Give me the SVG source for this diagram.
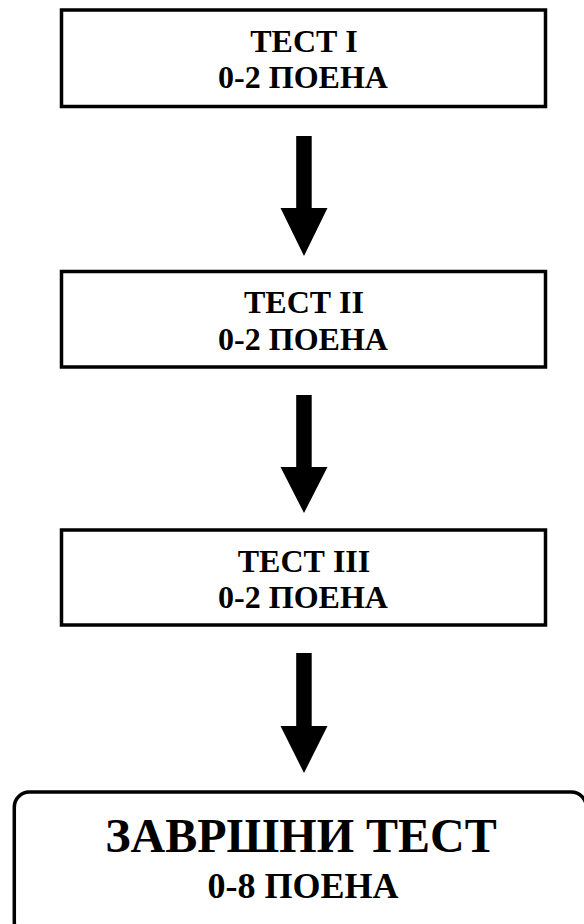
<svg xmlns="http://www.w3.org/2000/svg" width="584" height="924" viewBox="0 0 584 924">
<style>
.box{fill:#fff;stroke:#000;stroke-width:3.5}
.t{font-family:"Liberation Serif","Times New Roman",serif;font-weight:bold;fill:#000;text-anchor:middle}
.s{font-size:32px}
.arrow{fill:#000;stroke:none}
</style>
<rect width="584" height="924" fill="#fff"/>
<g id="node-test1">
<rect class="box" x="61.5" y="10" width="484" height="96.5"/>
<text class="t s" x="304" y="51.7">ТЕСТ I</text>
<text class="t s" x="303" y="88.3">0-2 ПОЕНА</text>
</g>
<g id="node-test2">
<rect class="box" x="61.5" y="271.5" width="484" height="95.5"/>
<text class="t s" x="304" y="313.3">ТЕСТ II</text>
<text class="t s" x="303" y="350">0-2 ПОЕНА</text>
</g>
<g id="node-test3">
<rect class="box" x="61.5" y="530" width="484" height="95"/>
<text class="t s" x="304" y="571.7">ТЕСТ III</text>
<text class="t s" x="303" y="608.3">0-2 ПОЕНА</text>
</g>
<g id="node-final">
<rect class="box" x="14.3" y="792" width="572" height="145" rx="15" ry="15"/>
<text class="t" x="301" y="851.7" font-size="48">ЗАВРШНИ ТЕСТ</text>
<text class="t" x="303" y="898.3" font-size="36">0-8 ПОЕНА</text>
</g>
<g id="connectors">
<path class="arrow" d="M296.2 136H311.7V208H327.5L304 256L280.5 208H296.2Z"/>
<path class="arrow" d="M296.2 395H311.7V467H327.5L304 513L280.5 467H296.2Z"/>
<path class="arrow" d="M296.2 653H311.7V726H327.5L304 773L280.5 726H296.2Z"/>
</g>
</svg>
